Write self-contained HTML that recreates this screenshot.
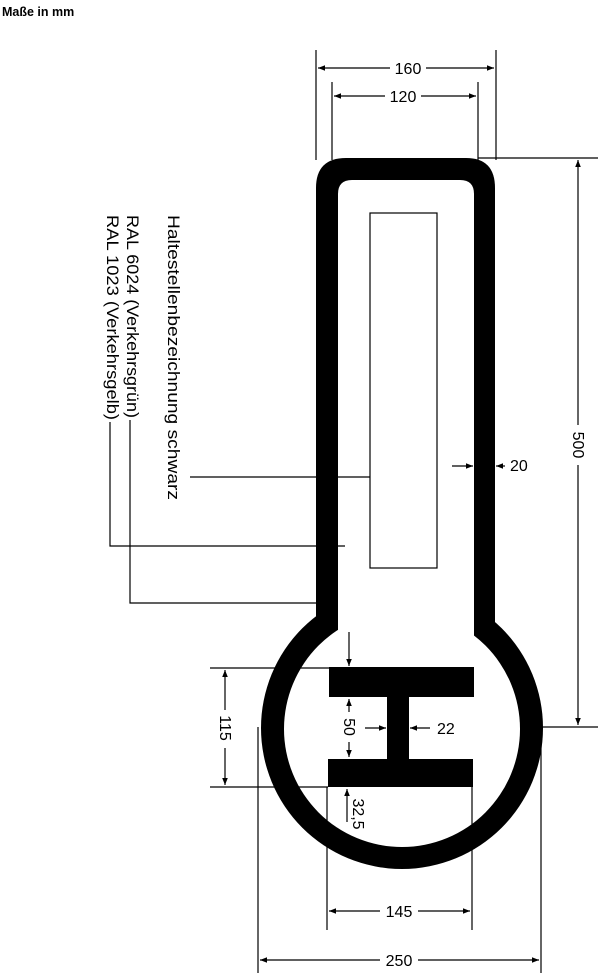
<!DOCTYPE html>
<html><head><meta charset="utf-8"><style>
html,body{margin:0;padding:0;background:#fff;}
svg{display:block;}
text{font-family:"Liberation Sans",Arial,sans-serif;fill:#000;}
</style></head><body>
<svg width="600" height="976" viewBox="0 0 600 976" xmlns="http://www.w3.org/2000/svg">
<defs>
<marker id="a" viewBox="0 0 10 10" refX="10" refY="5" markerWidth="9" markerHeight="7" orient="auto-start-reverse" markerUnits="userSpaceOnUse"><path d="M0,1 L10,5 L0,9 Z" fill="#000"/></marker>
</defs>
<text x="2" y="16" font-size="12.5" font-weight="bold">Maße in mm</text>

<path d="M316,650 L316,188 Q316,158 346,158 L466,158 Q495,158 495,188 L495,650 Z" fill="#000"/>
<circle cx="402" cy="728" r="141" fill="#000"/>
<path d="M316,598 L316,625 L340,615 Z M495,598 L495,625 L470,615 Z" fill="#000"/>
<circle cx="402" cy="729" r="118" fill="#fff"/>
<path d="M338,660 L338,194 Q338,180 352,180 L460,180 Q474,180 474,194 L474,660 Z" fill="#fff"/>
<rect x="370" y="213" width="67" height="355" fill="none" stroke="#000" stroke-width="1.2"/>

<rect x="329" y="667" width="145" height="30" fill="#000"/>
<rect x="387" y="696" width="22" height="64" fill="#000"/>
<rect x="328" y="759" width="145" height="28" fill="#000"/>

<g stroke="#000" stroke-width="1.2" fill="none">
<line x1="316" y1="50" x2="316" y2="160"/>
<line x1="496" y1="50" x2="496" y2="160"/>
<line x1="318" y1="68" x2="390" y2="68" marker-start="url(#a)"/>
<line x1="426" y1="68" x2="494" y2="68" marker-end="url(#a)"/>
<line x1="332" y1="82" x2="332" y2="160"/>
<line x1="478" y1="82" x2="478" y2="160"/>
<line x1="334" y1="96" x2="385" y2="96" marker-start="url(#a)"/>
<line x1="421" y1="96" x2="476" y2="96" marker-end="url(#a)"/>
<line x1="478" y1="158" x2="598" y2="158"/>
<line x1="540" y1="727" x2="598" y2="727"/>
<line x1="578" y1="160" x2="578" y2="425" marker-start="url(#a)"/>
<line x1="578" y1="465" x2="578" y2="725" marker-end="url(#a)"/>
<line x1="452" y1="466" x2="473" y2="466" marker-end="url(#a)"/>
<line x1="505" y1="466" x2="496" y2="466" marker-end="url(#a)"/>
<line x1="190" y1="477" x2="370" y2="477"/>
<polyline points="110,422 110,546 345,546"/>
<polyline points="130,420 130,603 316,603"/>
<line x1="210" y1="668" x2="330" y2="668"/>
<line x1="210" y1="787" x2="328" y2="787"/>
<line x1="225" y1="670" x2="225" y2="710" marker-start="url(#a)"/>
<line x1="225" y1="748" x2="225" y2="785" marker-end="url(#a)"/>
<line x1="349" y1="632" x2="349" y2="666" marker-end="url(#a)"/>
<line x1="349" y1="699" x2="349" y2="712" marker-start="url(#a)"/>
<line x1="349" y1="742" x2="349" y2="757" marker-end="url(#a)"/>
<line x1="347" y1="822" x2="347" y2="789" marker-end="url(#a)"/>
<line x1="365" y1="728" x2="386" y2="728" marker-end="url(#a)"/>
<line x1="430" y1="728" x2="410" y2="728" marker-end="url(#a)"/>
<line x1="327" y1="787" x2="327" y2="930"/>
<line x1="472" y1="787" x2="472" y2="930"/>
<line x1="329" y1="911" x2="380" y2="911" marker-start="url(#a)"/>
<line x1="418" y1="911" x2="470" y2="911" marker-end="url(#a)"/>
<line x1="258" y1="727" x2="258" y2="973"/>
<line x1="541" y1="727" x2="541" y2="973"/>
<line x1="260" y1="960" x2="380" y2="960" marker-start="url(#a)"/>
<line x1="418" y1="960" x2="539" y2="960" marker-end="url(#a)"/>
</g>

<g font-size="16">
<text x="408" y="74" text-anchor="middle">160</text>
<text x="403" y="102" text-anchor="middle">120</text>
<text x="510" y="471">20</text>
<text x="437" y="734">22</text>
<text x="399" y="917" text-anchor="middle">145</text>
<text x="399" y="966" text-anchor="middle">250</text>
<text transform="translate(573,445) rotate(90)" text-anchor="middle">500</text>
<text transform="translate(220,728) rotate(90)" text-anchor="middle">115</text>
<text transform="translate(344,727) rotate(90)" text-anchor="middle">50</text>
<text transform="translate(353,814) rotate(90)" text-anchor="middle">32,5</text>
</g>
<g font-size="16.5">
<text transform="translate(168,215) rotate(90)" textLength="285" lengthAdjust="spacingAndGlyphs">Haltestellenbezeichnung schwarz</text>
<text transform="translate(127,215) rotate(90)" textLength="203" lengthAdjust="spacingAndGlyphs">RAL 6024 (Verkehrsgrün)</text>
<text transform="translate(107,215) rotate(90)" textLength="205" lengthAdjust="spacingAndGlyphs">RAL 1023 (Verkehrsgelb)</text>
</g>
</svg>
</body></html>
